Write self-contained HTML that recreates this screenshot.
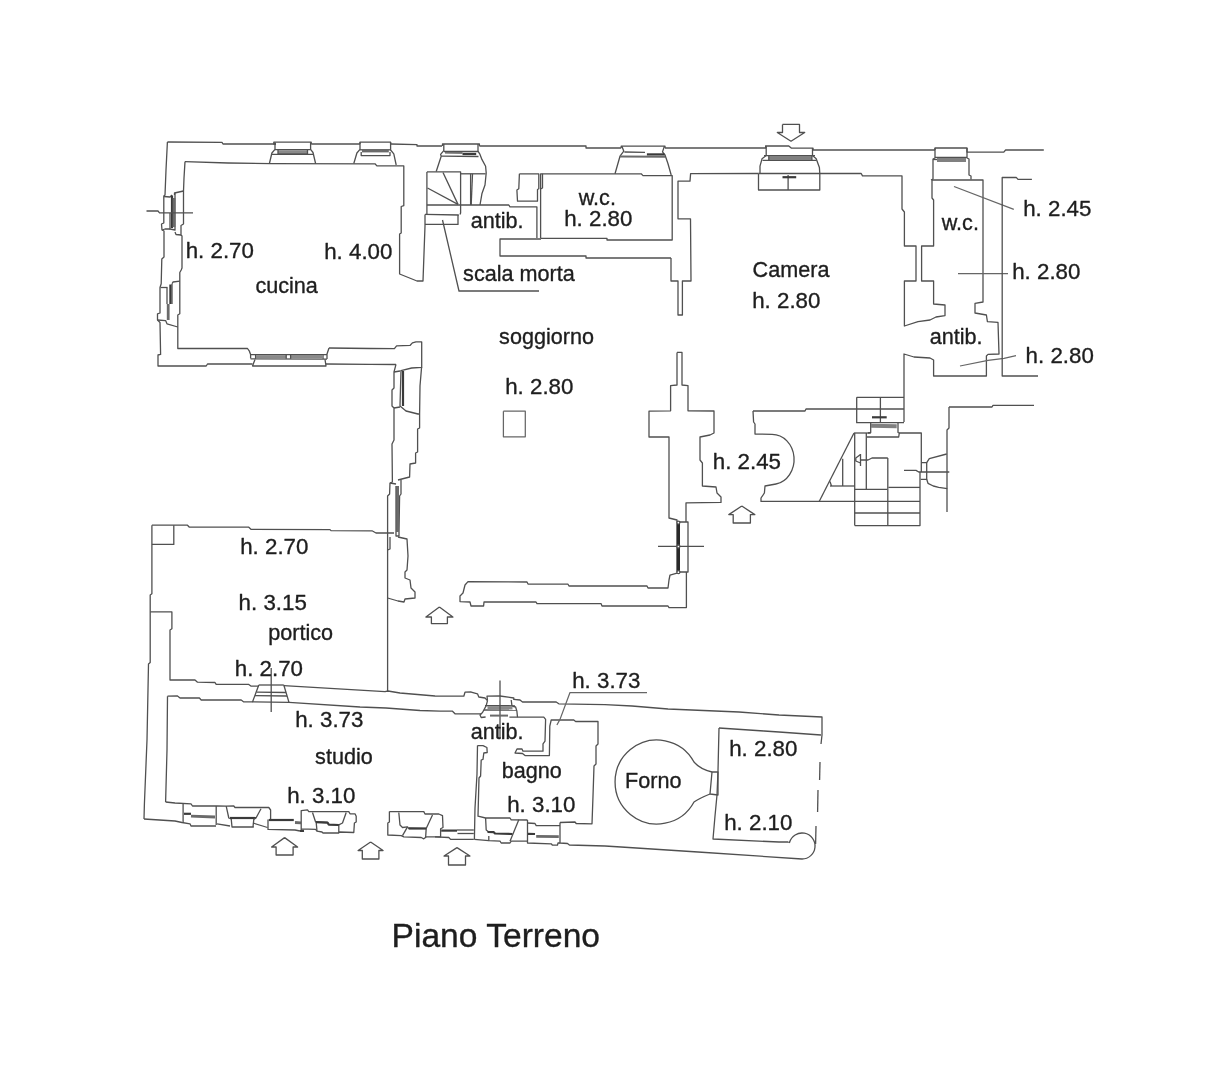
<!DOCTYPE html>
<html lang="it"><head><meta charset="utf-8"><title>Piano Terreno</title>
<style>
html,body{margin:0;padding:0;background:#fff;}
body{width:1225px;height:1080px;overflow:hidden;position:relative;}
svg{position:absolute;left:0;top:0;display:block;}
svg *{fill:none;stroke-linejoin:round;stroke-linecap:butt;}
.w{stroke:#505050;stroke-width:1.3;}
.a{stroke:#505050;stroke-width:1.3;}
.l{stroke:#666;stroke-width:1.25;}
.t2{stroke:#3a3a3a;stroke-width:2.2;}
.t3{stroke:#2a2a2a;stroke-width:3.2;}
.g2{stroke:#6a6a6a;stroke-width:2.8;}
.g3{stroke:#808080;stroke-width:4;}
.dd{stroke:#6a6a6a;stroke-width:2;}
.g3n{stroke:#8a8a8a;stroke-width:3.4;}
text{font-family:"Liberation Sans",Arial,Helvetica,sans-serif;fill:#1e1e1e;stroke:#1e1e1e;stroke-width:0.35;}
</style></head><body>
<svg width="1225" height="1080" viewBox="0 0 1225 1080">
<g>
<polyline class="w" points="167.4,142 222,142.4 223,144 276,144"/>
<polyline class="w" points="311.2,144 360,144"/>
<polyline class="w" points="390.6,144 417,144.6 417,146 442,146"/>
<polyline class="w" points="479.4,146 586,146 586,148 621.2,148"/>
<polyline class="w" points="665,148 766,148"/>
<polyline class="w" points="813,150 935,150"/>
<polyline class="w" points="967,152.2 1003.8,152.2 1005.6,150 1043.8,150"/>
<polyline class="w" points="276,144 273.8,144 273.8,142.2 311.2,142.2 311.2,144"/>
<polyline class="w" points="275,142.2 275,149.4 271.9,153 269.4,163.5"/>
<polyline class="w" points="310.6,142.2 310.6,149.4 313,152.5 315.6,163.5"/>
<polyline class="w" points="275,149.6 310.6,149.6"/>
<polyline class="w" points="272,154.4 313.4,154.4"/>
<polyline class="g3n" points="278,151.9 307.5,151.9"/>
<polyline class="w" points="278,150 278,153.8 307.5,153.8 307.5,150"/>
<polyline class="w" points="360,144 360,142.2 390.6,142.2 390.6,144"/>
<polyline class="w" points="360,142.2 360,149.4 356.9,153 353.8,163.5"/>
<polyline class="w" points="390.6,142.2 390.6,150 393.8,153.8 396.2,165"/>
<polyline class="w" points="360,149.8 390.6,149.8"/>
<polyline class="g2" points="362,151 388.8,151"/>
<polyline class="w" points="361.2,152 361.2,155.6 390,155.6 390,152"/>
<polyline class="w" points="442.5,146 442.5,144 479.4,144 479.4,146"/>
<polyline class="w" points="443.8,144 443.8,150.6 440.6,154.4 441.2,156.2 436.2,171.5"/>
<polyline class="w" points="478,144 478,151.2 480,154.4 481.9,159.4 485.6,166.2 486.2,173 485,185 481.9,193.8 480,205"/>
<polyline class="w" points="444,151.5 478,151.5"/>
<polyline class="w" points="445,152.8 462.5,153"/>
<polyline class="w" points="441.2,156.2 478.5,156.5"/>
<polyline class="t2" points="462.5,154 476.2,154"/>
<polyline class="w" points="621.2,148 621.2,146.2 665,146.2 665,148"/>
<polyline class="w" points="621.9,146.2 623.8,151.2 620,156.2 615,173.8"/>
<polyline class="w" points="664.4,146.2 662.5,151.9 665,155 668,163.8 671.2,175"/>
<polyline class="w" points="624.4,152 645,152.4"/>
<polyline class="dd" points="620,156.4 665,156.8"/>
<polyline class="t2" points="646.9,154.4 664.4,154.4"/>
<polyline class="w" points="766,148 765.6,146 788.8,146 791.2,148.1 813,148.1 813,150"/>
<polyline class="w" points="766.2,146.2 766.2,155.6 762,158.8 760,166.2 760,173.5"/>
<polyline class="w" points="812.5,148.1 812.5,155.6 816.2,158.8 819.4,167.5 819.8,173.5"/>
<polyline class="w" points="764,155.6 815,155.6"/>
<polyline class="w" points="762.5,160.4 816.5,160.4"/>
<polyline class="g3" points="768.8,158 811.9,158"/>
<polyline class="w" points="768.8,155.6 768.8,160.4"/>
<polyline class="w" points="811.9,155.6 811.9,160.4"/>
<polyline class="w" points="758.5,173.5 758.5,190 819.8,190 819.8,173.5 758.5,173.5"/>
<polyline class="w" points="788.1,175 788.1,190"/>
<polyline class="t2" points="782.5,177.2 796.2,177.2"/>
<polyline class="w" points="935,150 935,148 967,148 967,152.4"/>
<polyline class="w" points="935,148 935,158 933,159 933,179 931,180"/>
<polyline class="w" points="967,148 967,158 969,159 969,175 971,176 971,179.6"/>
<polyline class="w" points="935,157.4 967,157.4"/>
<polyline class="w" points="933,159.5 937,159.5"/>
<polyline class="g3" points="937,160 966,160"/>
<polyline class="a" points="782.5,124.4 799.5,124.4 799.5,132.5 804.7,132.5 791,141.2 777.3,132.5 782.5,132.5 782.5,124.4"/>
<polyline class="a" points="741.8,506 754.8,514.6 750.4,514.6 750.4,523 733.2,523 733.2,514.6 728.8,514.6 741.8,506"/>
<polyline class="a" points="439.4,607 452.9,617 447.4,617 447.4,623.6 431.4,623.6 431.4,617 425.9,617 439.4,607"/>
<polyline class="a" points="284.6,837.6 297.6,847 293.1,847 293.1,855 276.1,855 276.1,847 271.6,847 284.6,837.6"/>
<polyline class="a" points="370.6,842 383.1,850.5 378.9,850.5 378.9,859 362.3,859 362.3,850.5 358.1,850.5 370.6,842"/>
<polyline class="a" points="457,847.6 470,856 465.5,856 465.5,865 448.5,865 448.5,856 444,856 457,847.6"/>
<polyline class="w" points="167.4,142 166,170 165,195 163.8,196 163.8,223 161.5,224 162,230 164,231 164,257 161.8,259 161.2,283.8 160,287.5 160,313 157.5,313.8 157.5,320 160,322.5 160.6,354.4 158,355 158,366 206.2,366 207.5,364 252.5,364"/>
<polyline class="w" points="326,364 370,364.4 396,364.5"/>
<polyline class="w" points="185,161.6 228,163 271,163.6 375,163.8 376.9,165.9 403.8,165.9 403.8,205.6 401.2,206.5 401.2,233 399.6,234 399.6,274 417,281 423,281 425,226"/>
<polyline class="w" points="185,161.6 184,178 183.5,191 183.5,224 181,225.5 181,235 182,236 182,268 181.2,270 179.8,272.5 179.8,313.8 177.8,315 177.8,348.5 247.5,348.5 249.4,351.2 250.6,354.4 250.6,358.6"/>
<polyline class="w" points="183.5,191 174.5,193 174.5,195"/>
<polyline class="w" points="164,196.5 170,197 172,195"/>
<polyline class="w" points="170,213 170,229 175,230 175,193"/>
<polyline class="w" points="175,232 176,234.5 181,235"/>
<polyline class="w" points="162,230 165,229 170,229"/>
<polyline class="t2" points="172,195.5 172,228"/>
<polyline class="g2" points="174,198 174,227"/>
<polyline class="w" points="146.5,211 158,211 159.5,212.8 193,212.8"/>
<polyline class="w" points="179.8,281.2 173,282 172,283.8"/>
<polyline class="w" points="160.6,287.5 167.5,287.5"/>
<polyline class="w" points="157.5,320 165.6,320.6 167,323.8 177.8,327"/>
<polyline class="w" points="167,287.5 167,304"/>
<polyline class="w" points="172,284 172,304"/>
<polyline class="t2" points="170.4,284.5 170.4,304"/>
<polyline class="g2" points="168.2,304 168.2,320"/>
<polyline class="w" points="329,348 327,354 327,359"/>
<polyline class="w" points="329,348 370,348.5 394.4,348.6 396.6,345.8 410.2,345.3 412.4,342.9 416,341.9 421.7,341.9 421.7,367.3 411.7,368 401,370.6"/>
<polyline class="w" points="250.6,358.9 327,359.2"/>
<polyline class="w" points="250.6,354.6 327,354.6"/>
<polyline class="w" points="255,359.4 252.5,366 326,366 325,359.4"/>
<polyline class="w" points="255.6,354.6 255.6,358.9"/>
<polyline class="w" points="323,354.6 323,359"/>
<polyline class="g3n" points="256,356.8 286.2,356.8"/>
<polyline class="g3n" points="290.6,356.8 323,356.8"/>
<polyline class="w" points="286.2,354.8 286.2,358.8"/>
<polyline class="w" points="290.6,354.8 290.6,358.8"/>
<polyline class="w" points="426.9,171.9 460.6,171.9 460.6,213 460,214.4"/>
<polyline class="w" points="426.9,171.9 426.9,214.4"/>
<polyline class="w" points="426.9,205 508.8,205 510,206.9 536.9,206.9 536.9,238"/>
<polyline class="w" points="458,204.4 443,172.5"/>
<polyline class="w" points="458,204.4 427.5,188"/>
<polyline class="w" points="425,214.4 458.8,215"/>
<polyline class="w" points="425,214.4 425,226"/>
<polyline class="w" points="425,224.4 458,224.4 458,215"/>
<polyline class="w" points="442.5,220 459,291 539,291"/>
<polyline class="w" points="460.6,173.8 485.6,173.8"/>
<polyline class="w" points="470.6,173.8 470.6,205"/>
<polyline class="w" points="472.5,173.8 471.2,205"/>
<polyline class="w" points="519.4,173.8 538.8,173.8 538.8,188.8 537.5,189.5 537.5,201.2 517.5,201.2 516.9,190 518.8,188.8 519.4,173.8"/>
<polyline class="w" points="540.6,238 540.6,173.8 615,173.8"/>
<polyline class="w" points="542.5,173.8 542.5,188 540.6,188.8"/>
<polyline class="w" points="615,173.8 641.2,173.8 643,175.6 672.2,175.6 672.2,240 607,240 607,238.4 540.6,238.4"/>
<polyline class="w" points="671,258 586,258 586,256 500,256 500,239 541,239"/>
<polyline class="w" points="671,258 671,281 678,281 678,315 682.4,315 682.4,281 691,281 690.5,218.8 678,218.8 678,181.2 690,181.2 690.6,173.6 758.5,173.5"/>
<polyline class="w" points="819.8,173.5 861.2,173.5 862.5,175.9 902,175.9 902,209 904.4,212 904.4,246 916,246 916,281 904.4,281 904.4,326 918,321.6 930,320 936,317 945,315.6 945,305 933.6,304 933.6,281 921.6,281 921.6,246 933.6,246 933.6,200 932,198 932,180 983,180 983,302 975,303.4 975,313 986.4,315 987.4,321.6 998,322.4 999,354 988,354.4 986.4,356 986.4,376 933.6,376 933.6,360 930,358 914,357 904,354 904,422"/>
<polyline class="l" points="954,186.5 1013.8,209.4"/>
<polyline class="l" points="958,273.6 1008,273.6"/>
<polyline class="l" points="960,366 988,360.4 1004,358.4 1016,355.6"/>
<polyline class="w" points="1031.9,179.4 1018,179.4 1016.2,177.3 1002.2,177.5 1002.2,376 1038,376"/>
<polyline class="w" points="949,407 992,407 993,405.4 1034,405.4"/>
<polyline class="w" points="949,407 949,428 947,430 947,512"/>
<polyline class="w" points="677,352.4 682,352.4 682,385 688,385.6 688,410.8 714,411 714,433 710,435 700,437 700,460 702.4,463 702.4,486 716,487 717,493 721,497 721,502.4 686,502.8 686,522"/>
<polyline class="w" points="677,352.4 677,385 670.6,385.6 670.6,410.8 649,411.2 649,437 669,437 669,518 677,520 677,522"/>
<polyline class="w" points="753,411 805,411 806,409 856.7,409"/>
<polyline class="w" points="753,411 753.6,422 755,424 755,434 772,434.4"/>
<polyline class="w" points="776,484 765,486 764.4,493 761,498 761,501.4 920,501.4"/>
<polyline class="w" points="677,522 688,522 688,572 677,572 677,522"/>
<polyline class="t3" points="678.4,524 678.4,570.8"/>
<polyline class="w" points="658,546.4 704,546.4"/>
<polyline class="w" points="677,573 670,575 669,580 668,588 648,588 647,586 569,586 568,584.2 528,584 527,582 468,581.6 465,585 463,593 460,596 460,601.6 470,602 471,606 483.6,606 484,602 536,602 537,603.6 601,603.6 602,606 668,606 669,607.6 686.4,607.6 686.4,572"/>
<polyline class="l" points="503.4,411.2 525.3,411.2 525.3,436.8 503.4,436.8 503.4,411.2"/>
<polyline class="w" points="396,364.4 394,372 394,388 392,390 392,406 394,408 394,440 392,444 392.4,482 390,483 389.6,494 387.6,496 387.6,691"/>
<polyline class="w" points="401,370 400,406 406,411 418,414 419.6,414"/>
<polyline class="w" points="421.6,367 420,386 419.6,414 419.6,428 417.6,429 417.6,452 415.6,453 415.6,463 410,464 409.6,477 398,480"/>
<polyline class="w" points="394,372 400,371"/>
<polyline class="w" points="394,408 400,407"/>
<polyline class="t2" points="403,371 403,406"/>
<polyline class="w" points="401,480 401,494 399.6,496 399,532"/>
<polyline class="w" points="390,483 396,484"/>
<polyline class="g2" points="397.6,486 397.6,532"/>
<polyline class="w" points="396,486 396,536 399,536 399,532"/>
<polyline class="w" points="390,537 390,549 387.6,550"/>
<polyline class="w" points="398,537 407,539 408,556 407,570 405,572 405,578 410,580 411,588 415,592 415,598 405,599 404,602 398,601 387.6,598"/>
<polyline class="w" points="856.7,397.3 904,397.3"/>
<polyline class="w" points="856.7,397.3 856.7,422.7 904,422.7"/>
<polyline class="w" points="856.7,409 904,409"/>
<polyline class="w" points="880.4,397.3 880.4,422.7"/>
<polyline class="t2" points="872,417.3 886.7,417.3"/>
<polyline class="w" points="870.7,422.7 870.7,432.5 868,433"/>
<polyline class="w" points="898,422.7 898,432.5 899.3,433"/>
<polyline class="g3" points="871,425.8 896.7,426.3"/>
<polyline class="w" points="854,433 870.7,433"/>
<polyline class="w" points="899,433 921.3,433 921.3,472"/>
<polyline class="w" points="867,437 898.7,437 899.3,433"/>
<polyline class="w" points="854.7,433 854.7,525.6"/>
<polyline class="w" points="866.3,433 866.3,489"/>
<polyline class="w" points="854,433 819.3,501.3"/>
<polyline class="w" points="842.7,458.7 842.7,486"/>
<polyline class="w" points="830,486 854.7,486"/>
<polyline class="w" points="830,481.5 831.5,486"/>
<polyline class="w" points="854.7,489.4 887.3,489.4"/>
<polyline class="w" points="888.4,487.4 920,487.4"/>
<polyline class="w" points="854.7,513 920,513"/>
<polyline class="w" points="854.7,525.6 920,525.6 920,472"/>
<polyline class="w" points="887.8,458 887.8,525.6"/>
<polyline class="w" points="860,460 868,460 872,458 887.8,458"/>
<polyline class="w" points="860.5,454 860.5,466"/>
<polyline class="w" points="860.5,454.5 855.8,458 855.8,461 860.5,463"/>
<polyline class="w" points="921.3,462.7 926.7,462.7 926.7,479.3 920.7,479.3"/>
<polyline class="w" points="926.7,462.7 929.3,458.7 946.7,454"/>
<polyline class="w" points="926.7,479.3 928,483.3 933.3,486 938.7,487.3 947.3,488.7"/>
<polyline class="w" points="904,470.4 916,470.4 918.7,472 949.3,472"/>
<polyline class="w" points="151.9,525.2 187.5,525.2 189.4,527.2 248.8,527.2 251.2,529.4 330,529.6 331,530.6 372,530.8 376,533 394,533"/>
<polyline class="w" points="173.8,525.2 173.8,544.4 151.9,544.4"/>
<polyline class="w" points="151.9,525.2 151.9,593.8 150.2,595 150.2,662.5 148.5,664 147,740 144.4,804 144,819"/>
<polyline class="w" points="150.3,611.9 171.9,611.9 171.9,628.8 170,630 170,680 195,680 197.5,682.2 215,682.5 216.2,684.4 248.8,684.4 251.2,686.2 258.8,686.2"/>
<polyline class="w" points="283.8,685.6 385,691.6 388,691 400,693 435,696 463.8,696.2 465,692.2 471.2,692 477.5,693.8 478.8,697 485,698 487.5,700.6"/>
<polyline class="w" points="167.5,696.2 177.5,696 180,698 199.4,698 201.2,700 241.2,700 243.8,701.9 252.5,701.9"/>
<polyline class="w" points="289,702.4 360,707 386,708 420,710.5 440,711.2 452.5,711.2 455,713.8 481.2,713.8"/>
<polyline class="w" points="258.8,685 283.8,685"/>
<polyline class="w" points="258.8,685 252.5,701.9 289,702.4 283.8,685"/>
<polyline class="w" points="256.5,692.2 286,692.5"/>
<polyline class="w" points="255,695.6 287,696"/>
<polyline class="w" points="271.2,668 271.2,712"/>
<polyline class="w" points="167.5,696.2 167,750 165.6,802"/>
<polyline class="w" points="165.6,802 175,803 191,803.8 192.5,806 217,806 226.2,806.2 233.8,806 235,807.5 268.8,807.5 270.6,810 270.6,819.4"/>
<polyline class="w" points="183.1,803.8 183.1,823"/>
<polyline class="w" points="216.2,806 216.2,825"/>
<polyline class="t2" points="184,813.8 191,813.8"/>
<polyline class="g2" points="191,816.2 215,817"/>
<polyline class="w" points="144,819 175,821 182,822.5 190,823.8 191,826 216,826"/>
<polyline class="w" points="217,823.8 230,826"/>
<polyline class="w" points="226.2,806.2 228.8,818 231.2,818.8 232,827 253.8,827"/>
<polyline class="t2" points="230,818 256,818"/>
<polyline class="w" points="261,808.8 256,818 253.8,819.4 253,827"/>
<polyline class="w" points="253,823 267.5,827.5"/>
<polyline class="w" points="268,819.4 268,829.4 295,830 300,831"/>
<polyline class="t2" points="268.8,820 293.8,820"/>
<polyline class="g2" points="295,822.5 301,822.8"/>
<polyline class="w" points="301.2,830 301.2,810.6 307.5,809.8 308.8,811.6 348.8,811.6 350,813.8 355,813.8 356.2,816.2 356.2,822 354.4,823 353.8,832.5 339.4,832 338.8,833 323,833 322,832 317,831.2 315.6,829.4 301.2,828.8"/>
<polyline class="w" points="312.5,812.5 315.6,822 327.5,822.5 328.8,824.4 338.8,824.8 342.5,823 346.2,812.5"/>
<polyline class="w" points="316.2,822.5 317,831.2"/>
<polyline class="w" points="338.8,824.8 338.8,833"/>
<polyline class="t2" points="316,822.2 327.5,822.7 328.8,824.6 338.8,825"/>
<polyline class="t2" points="300,831 304,830.8"/>
<polyline class="w" points="389.4,811.6 389.4,822 387.8,823 387.8,835 401.2,835.6 403.8,836.9 421.2,837.5 423.8,838.8 426.2,836.9 440.6,836.9 440.6,828.8 443,827.5 442.5,815.6 438.8,814 425,814 423.8,811.6 389.4,811.6"/>
<polyline class="w" points="398.8,812.5 400,825 402.5,827.5 407.5,826.9 408.8,828.5 426.2,828.5 432.5,815"/>
<polyline class="w" points="407.5,826.9 402.5,835.6"/>
<polyline class="w" points="426.2,828.5 425.6,837.5"/>
<polyline class="t2" points="408.8,828.3 426.2,828.5"/>
<polyline class="t2" points="441.2,830.6 457,830.6"/>
<polyline class="w" points="457,830 473.8,830"/>
<polyline class="w" points="457.5,833.5 473.8,833.5"/>
<polyline class="w" points="435,836.9 448.8,837.5 450.6,839.4 473.8,839.4"/>
<polyline class="w" points="513.8,699.4 520,700 522.5,702 556.2,702 558.8,703.8 605,704.6 632,706 668,709 739,712 779,715 822,717 822,735 821,744"/>
<polyline class="w" points="487.5,700.6 487,696.2 500,696 513.8,698 513.8,700"/>
<polyline class="w" points="487.5,700.6 486.2,705.6 482.5,712.5 480,715 481.2,717.5 485.6,717"/>
<polyline class="w" points="511.2,700 512,706.2 515.6,707 516.9,711.2 517.5,717.2"/>
<polyline class="w" points="485,705.6 515,705.8"/>
<polyline class="w" points="484,710 516.5,710.2"/>
<polyline class="g3n" points="487.5,707.8 512.5,707.8"/>
<polyline class="w" points="500,680.6 500,737.5"/>
<polyline class="dd" points="490,715.6 508,715.6"/>
<polyline class="w" points="509.4,717.2 543.8,717.2 545.6,719.4 545,741.2 543,743.8 543,751.2 523,751.2 522,749 517,749 515,753 522.5,753.5 525,755.6 549.4,755.6 549.8,726.2 551.2,720 573.8,720 575.6,721.5 598,721.5 598,744 596,746 596,764 594,766 593,796 592,823.8 576.2,823.5 575,822 560,822.5"/>
<polyline class="l" points="556.9,725 560,719.4 570,692.5 647,692.5"/>
<polyline class="w" points="477.5,745.6 483,745.6 486.9,747.5 487.2,752.5 483.8,753 483,759.4 481.2,760 480.6,776 479,778 478,816.2 485.6,818 510,818 511.2,819.8 527.5,820"/>
<polyline class="w" points="477.5,745.6 477,774 475,808 474.4,839.4"/>
<polyline class="w" points="605,846 621,847 698,852 802,859"/>
<polyline class="w" points="485.6,818 486.2,830 488.8,832"/>
<polyline class="t2" points="487.5,832 493.8,832.2 495,833.5 512.5,834"/>
<polyline class="w" points="518.8,819.8 510,841.2"/>
<polyline class="w" points="488.8,836 488.8,840.6 500,841.2 501.2,843 510,843 511.2,841.2 527,841.2"/>
<polyline class="w" points="474.4,839.4 488.8,840.6"/>
<polyline class="w" points="527.5,820 527.5,843 551.2,843.8 552.5,845.2 557.5,845.2 558,843 560,843"/>
<polyline class="w" points="527.5,823 535,823.5 536.2,825.6 560,825.6"/>
<polyline class="t2" points="528,833.8 535,834"/>
<polyline class="g2" points="536.2,836.3 558.8,836.6"/>
<polyline class="w" points="560,822.5 560,843 567.5,843.5 569.4,845 605,846"/>
<polyline class="w" points="719,728 764,731 779,732 821,735"/>
<polyline class="w" points="719,728 718,771 717,795 715,816 713,839 779,842 788,842"/>
<polyline class="w" points="712,772 718,772 718,795 710,794 712,772"/>
<polyline class="w" points="820,762 819.6,780"/>
<polyline class="w" points="818,790 817.6,812"/>
<polyline class="w" points="816,826 815.6,844"/>
<path class="w" d="M712,772 Q700,769 694,762 A42,42 0 1 0 694,802 Q700,798 710,794"/>
<path class="w" d="M788,842 L789.5,842.5 A13,13 0 1 1 802,859"/>
<path class="w" d="M772,434.4 A22,25 0 0 1 776,484"/>
<circle class="w" cx="678.4" cy="522.6" r="1.5" style="fill:#fff"/>
<circle class="w" cx="678.4" cy="546.5" r="1.5" style="fill:#fff"/>
<circle class="w" cx="678.4" cy="572.2" r="1.5" style="fill:#fff"/>
</g>
<g filter="url(#n)">
<text x="185.7" y="258.1" font-size="22.3">h. 2.70</text>
<text x="324.2" y="258.6" font-size="22.3">h. 4.00</text>
<text x="255.4" y="292.6" font-size="21.6">cucina</text>
<text x="470.8" y="227.6" font-size="21.6">antib.</text>
<text x="463.1" y="280.6" font-size="21.6">scala morta</text>
<text x="578.7" y="204.6" font-size="21.6">w.c.</text>
<text x="564.2" y="225.6" font-size="22.3">h. 2.80</text>
<text x="752.6" y="276.6" font-size="21.6">Camera</text>
<text x="752.2" y="308.1" font-size="22.3">h. 2.80</text>
<text x="941.7" y="229.6" font-size="21.6">w.c.</text>
<text x="1023.2" y="215.6" font-size="22.3">h. 2.45</text>
<text x="1012.2" y="278.6" font-size="22.3">h. 2.80</text>
<text x="929.8" y="343.6" font-size="21.6">antib.</text>
<text x="1025.6" y="363" font-size="22.3">h. 2.80</text>
<text x="499.1" y="343.6" font-size="21.6">soggiorno</text>
<text x="505.2" y="393.6" font-size="22.3">h. 2.80</text>
<text x="712.8" y="468.6" font-size="22.3">h. 2.45</text>
<text x="240.2" y="553.6" font-size="22.3">h. 2.70</text>
<text x="238.6" y="609.6" font-size="22.3">h. 3.15</text>
<text x="268.3" y="639.6" font-size="21.6">portico</text>
<text x="234.8" y="675.6" font-size="22.3">h. 2.70</text>
<text x="295.2" y="726.6" font-size="22.3">h. 3.73</text>
<text x="315.1" y="763.6" font-size="21.6">studio</text>
<text x="287.2" y="803" font-size="22.3">h. 3.10</text>
<text x="470.8" y="739.2" font-size="21.6">antib.</text>
<text x="501.7" y="777.6" font-size="21.6">bagno</text>
<text x="507.2" y="811.6" font-size="22.3">h. 3.10</text>
<text x="572.2" y="687.6" font-size="22.3">h. 3.73</text>
<text x="625" y="787.6" font-size="21.6">Forno</text>
<text x="729.2" y="755.6" font-size="22.3">h. 2.80</text>
<text x="724.2" y="830.2" font-size="22.3">h. 2.10</text>
<text x="391.6" y="947.2" font-size="33.6">Piano Terreno</text>
</g>
<defs><filter id="n" x="0" y="0" width="1225" height="1080" filterUnits="userSpaceOnUse"><feOffset dx="0" dy="0"/></filter></defs>
</svg></body></html>
